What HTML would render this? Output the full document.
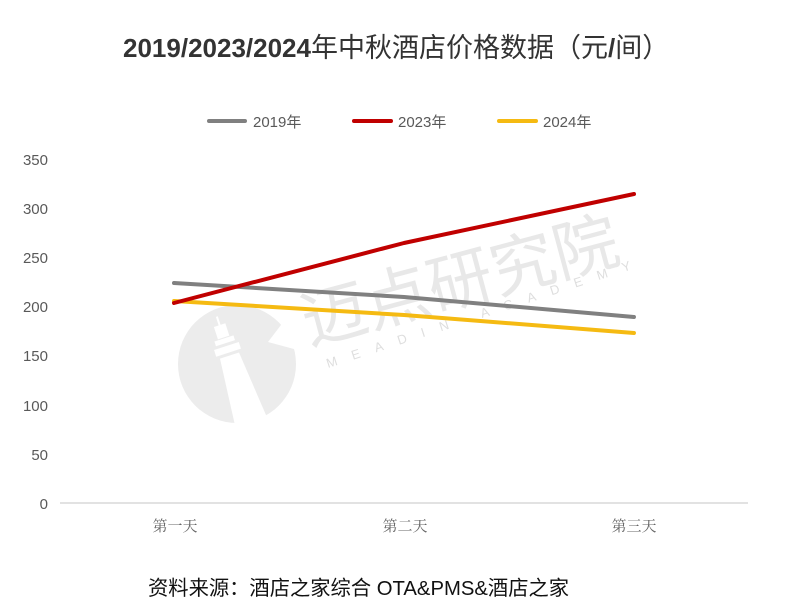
<!DOCTYPE html>
<html>
<head>
<meta charset="utf-8">
<style>
  html,body{margin:0;padding:0;background:#fff;}
  body{width:800px;height:604px;overflow:hidden;}
  svg{display:block;}
</style>
</head>
<body>
<svg width="800" height="604" viewBox="0 0 800 604" xmlns="http://www.w3.org/2000/svg">
  <rect width="800" height="604" fill="#ffffff"/>

  <!-- Title -->
  <text x="123" y="57" fill="#333333" font-family="'Liberation Sans','Noto Sans CJK SC',sans-serif"><tspan font-size="26" font-weight="bold">2019/2023/2024</tspan><tspan font-size="27" font-family="'Noto Sans CJK SC',sans-serif">年中秋酒店价格数据（元</tspan><tspan font-size="26" font-weight="bold">/</tspan><tspan font-size="27" font-family="'Noto Sans CJK SC',sans-serif">间）</tspan></text>

  <!-- Legend -->
  <g stroke-width="4" stroke-linecap="round">
    <line x1="209" y1="121" x2="245" y2="121" stroke="#808080"/>
    <line x1="354" y1="121" x2="391" y2="121" stroke="#C00000"/>
    <line x1="499" y1="121" x2="536" y2="121" stroke="#F5BA12"/>
  </g>
  <g font-family="'Liberation Sans','Noto Sans CJK SC',sans-serif" font-size="15" fill="#595959">
    <text x="253" y="127">2019年</text>
    <text x="398" y="127">2023年</text>
    <text x="543" y="127">2024年</text>
  </g>

  <!-- Y axis labels -->
  <g font-family="'Liberation Sans',sans-serif" font-size="15" fill="#595959" text-anchor="end">
    <text x="48" y="165">350</text>
    <text x="48" y="214">300</text>
    <text x="48" y="263">250</text>
    <text x="48" y="312">200</text>
    <text x="48" y="361">150</text>
    <text x="48" y="411">100</text>
    <text x="48" y="460">50</text>
    <text x="48" y="509">0</text>
  </g>

  <!-- Watermark -->
  <g>
    <circle cx="237" cy="364" r="59" fill="#ececec"/>
    <polygon points="268,342 300,300 305,352" fill="#ffffff"/>
    <g transform="rotate(-18 232 360)" fill="#ffffff">
      <rect x="230" y="314" width="2" height="10"/>
      <rect x="225" y="323" width="12" height="13"/>
      <rect x="221" y="337" width="20" height="5"/>
      <rect x="218" y="345" width="26" height="7"/>
      <polygon points="221,355 241,355 248,430 214,430"/>
    </g>
    <text x="309" y="345" transform="rotate(-15 309 345)" font-family="'Noto Sans CJK SC',sans-serif" font-size="65" fill="#e8e8e8">迈点研究院</text>
    <text x="328" y="368" transform="rotate(-18 328 368)" font-family="'Liberation Sans',sans-serif" font-size="13" letter-spacing="15.5" fill="#dedede">MEADIN ACADEMY</text>
  </g>

  <!-- X axis line -->
  <line x1="60" y1="503" x2="748" y2="503" stroke="#d9d9d9" stroke-width="1.5"/>

  <!-- Series -->
  <g fill="none" stroke-width="4" stroke-linecap="round" stroke-linejoin="round">
    <polyline points="174,283 404,297 634,317" stroke="#808080"/>
    <polyline points="174,301 404,315 634,333" stroke="#F5BA12"/>
    <polyline points="174,303 404,243 634,194" stroke="#C00000"/>
  </g>

  <!-- X labels -->
  <g font-family="'Noto Serif CJK SC','Noto Sans CJK SC',serif" font-size="15" fill="#666666" text-anchor="middle">
    <text x="175" y="531">第一天</text>
    <text x="405" y="531">第二天</text>
    <text x="634" y="531">第三天</text>
  </g>

  <!-- Source -->
  <text x="148" y="595" font-family="'Liberation Sans','Noto Sans CJK SC',sans-serif" font-size="20.3" fill="#111111">资料来源：酒店之家综合 OTA&amp;PMS&amp;酒店之家</text>
</svg>
</body>
</html>
